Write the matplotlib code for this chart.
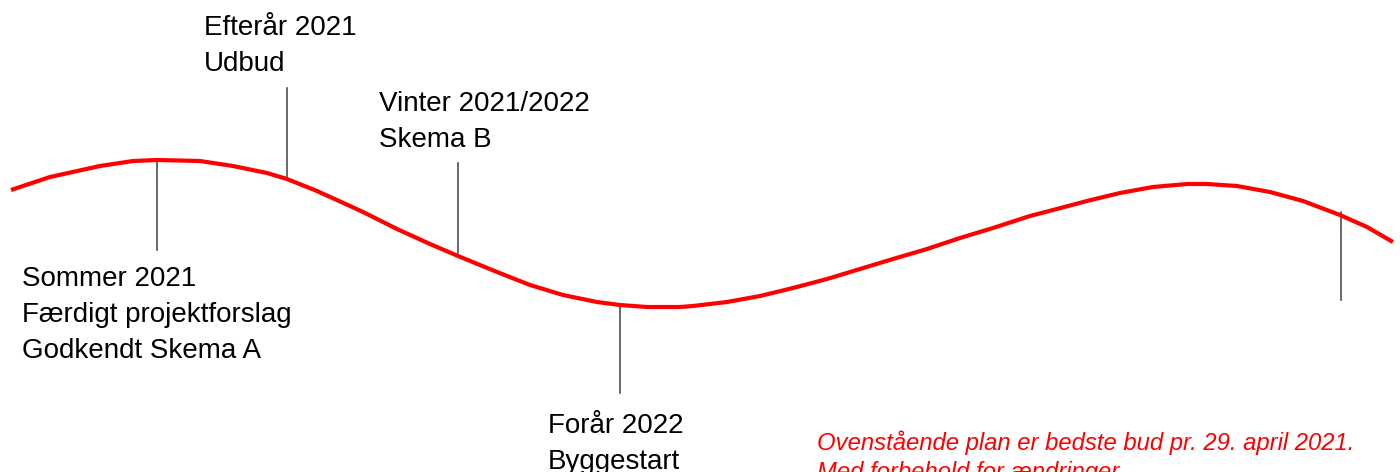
# Tidsplan - roed boelgelinje med milepaele

import matplotlib.pyplot as plt

# boelgekurve, aflaest i pixel (x, y)
curve_x = [11, 50, 100, 133, 157, 200, 233, 267, 287, 317, 350, 363, 397, 430,
           458, 497, 530, 563, 597, 620, 647, 680, 693, 727, 760, 793, 827,
           860, 893, 927, 960, 993, 1030, 1053, 1087, 1120, 1153, 1187, 1207,
           1237, 1270, 1303, 1340, 1367, 1393]
curve_y = [190, 177, 166, 161, 160, 161, 166, 173, 179, 191, 206, 212, 229, 244,
           256, 272, 285, 295, 302, 305, 307, 307, 306, 302, 296, 288, 279,
           269, 259, 249, 238, 228, 216, 210, 201, 193, 187, 184, 184,
           186, 192, 201, 215, 227, 242]

# milepaele: x, linjens top og bund
tick_x = [157, 287, 458, 620, 1341]
tick_top = [160, 88, 163, 305, 212]
tick_bottom = [250, 178, 253, 393, 300]

labels = [
    ["Sommer 2021", "Færdigt projektforslag", "Godkendt Skema A"],
    ["Efterår 2021", "Udbud"],
    ["Vinter 2021/2022", "Skema B"],
    ["Forår 2022", "Byggestart"],
]
label_x = [22, 204, 379, 548]
label_baseline = [286, 35, 111, 433]

note = ["Ovenstående plan er bedste bud pr. 29. april 2021.",
        "Med forbehold for ændringer."]

plt.rcParams['font.family'] = ['Liberation Sans', 'DejaVu Sans']

fig = plt.figure(figsize=(14, 4.72), dpi=100)
ax = fig.add_axes([0, 0, 1, 1])
ax.set_xlim(0, 1400)
ax.set_ylim(472, 0)
ax.axis('off')

for x, y0, y1 in zip(tick_x, tick_top, tick_bottom):
    ax.plot([x, x], [y0, y1], color='#404040', lw=1.1, zorder=1)

ax.plot(curve_x, curve_y, color='#ff0000', lw=3, solid_capstyle='butt',
        solid_joinstyle='round', zorder=2)

for lines, x, y in zip(labels, label_x, label_baseline):
    for i, txt in enumerate(lines):
        ax.text(x, y + i * 36, txt, fontsize=20, va='baseline', ha='left', color='black')

for i, txt in enumerate(note):
    ax.text(817, 450 + i * 29.5, txt, fontsize=17.2, style='italic', va='baseline',
            ha='left', color='#ff0000')

fig.savefig('out.png', dpi=100)
